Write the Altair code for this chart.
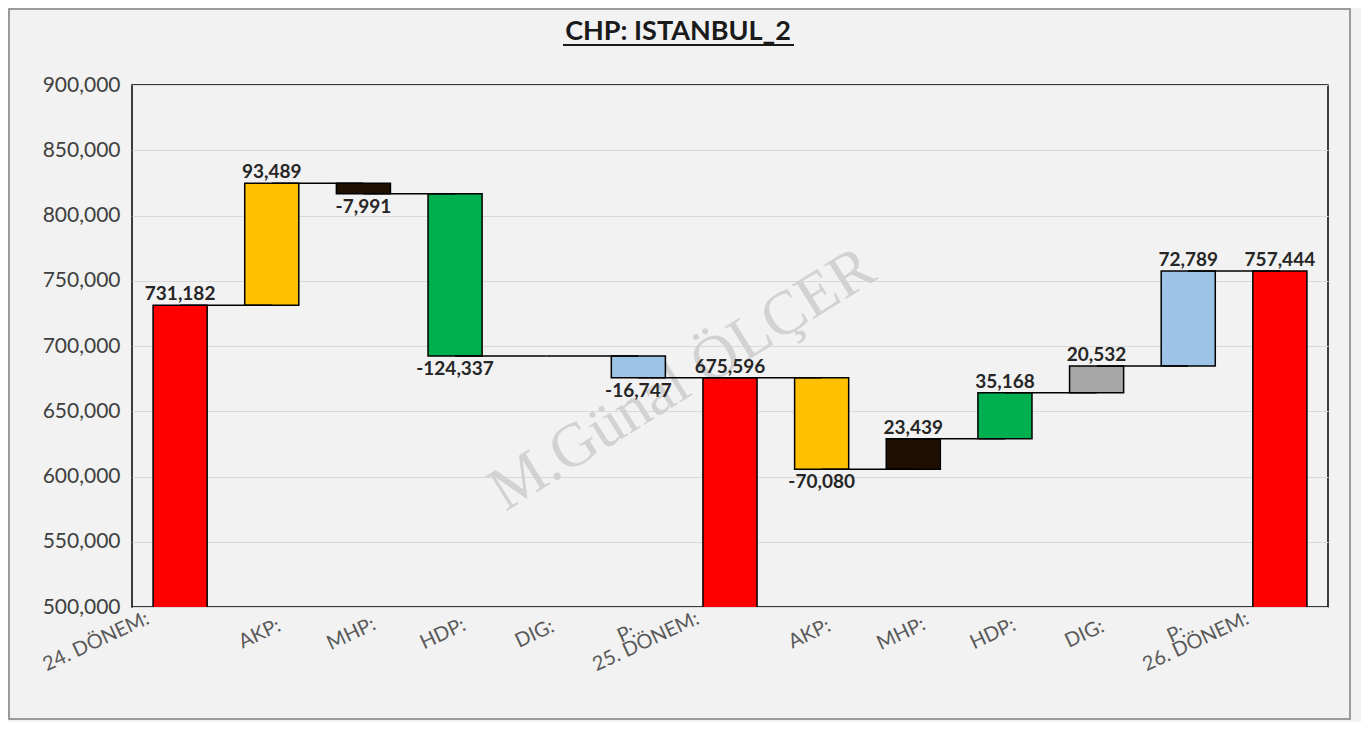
import altair as alt
import pandas as pd

# ---- data ----
categories = ["24. DÖNEM:", "AKP:", "MHP:", "HDP:", "DIG:", "P:", "25. DÖNEM:",
              "AKP:", "MHP:", "HDP:", "DIG:", "P:", "26. DÖNEM:"]
values = [731182, 93489, -7991, -124337, 0, -16747, 675596,
          -70080, 23439, 35168, 20532, 72789, 757444]
kinds = ["total", "delta", "delta", "delta", "delta", "delta", "total",
         "delta", "delta", "delta", "delta", "delta", "total"]
party_colors = {"DÖNEM": "#FF0000", "AKP": "#FFC000", "MHP": "#1F0F00",
                "HDP": "#00B050", "DIG": "#A6A6A6", "P": "#9DC3E6"}
y_ticks = [500000, 550000, 600000, 650000, 700000, 750000, 800000, 850000, 900000]
title_text = "CHP: ISTANBUL_2"
watermark_text = "M.Günal ÖLÇER"

W, H = 1196, 522

rows = []
running = 0
for i, (c, v, k) in enumerate(zip(categories, values, kinds)):
    if k == "total":
        start, end = 0, v
    else:
        start, end = running, running + v
    running = end
    key = "DÖNEM" if "DÖNEM" in c else c.rstrip(":")
    rows.append({"idx": i, "cat": c, "value": v, "kind": k, "start": start,
                 "end": end, "color": party_colors[key],
                 "txt": f"{v:,}" if v != 0 else "",
                 "sign": "neg" if v < 0 else ("pos" if v > 0 else "zero")})
df = pd.DataFrame(rows)

conn = pd.DataFrame([{"idx": r["idx"], "nxt": r["idx"] + 1, "level": r["end"]}
                     for r in rows[:-1]])
one = pd.DataFrame([{"a": 1}])

xscale = alt.Scale(paddingInner=0.41, paddingOuter=0.23)
yscale = alt.Scale(domain=[500000, 900000], nice=False, zero=False)
X = alt.X("idx:O", scale=xscale, axis=None)

yaxis = alt.Axis(values=y_ticks, format=",", labelExpr="format(datum.value, ',')",
                 title=None, domain=False, ticks=False,
                 labelFont="Lato", labelFontSize=21, labelColor="#404040",
                 labelPadding=12, gridColor="#d9d9d9", gridWidth=1)

border = alt.Chart(one).mark_rect(fill="transparent", stroke="#7f7f7f", strokeWidth=1.5).encode(
    x=alt.value(-123), x2=alt.value(1218), y=alt.value(-76), y2=alt.value(H + 112))

watermark = alt.Chart(one).mark_text(
    text=watermark_text, font="Liberation Serif", fontSize=62, angle=328,
    color="#d2d2d2", align="center", baseline="middle").encode(
    x=alt.value(550), y=alt.value(294))

bars = alt.Chart(df).transform_filter("datum.value != 0").mark_bar(
    stroke="black", strokeWidth=1.5, clip=True).encode(
    x=X, y=alt.Y("start:Q", scale=yscale, axis=yaxis), y2="end:Q",
    color=alt.Color("color:N", scale=None))

connectors = alt.Chart(conn).mark_rule(color="black", strokeWidth=1.5).encode(
    x=X, x2="nxt:O",
    y=alt.Y("level:Q", scale=yscale, axis=yaxis))

lab_pos = alt.Chart(df).transform_filter("datum.sign == 'pos'").mark_text(
    font="Lato", fontWeight="bold", fontSize=19, color="#262626",
    baseline="alphabetic", dy=-5).encode(
    x=X, y=alt.Y("end:Q", scale=yscale, axis=yaxis), text="txt:N")

lab_neg = alt.Chart(df).transform_filter("datum.sign == 'neg'").mark_text(
    font="Lato", fontWeight="bold", fontSize=19, color="#262626",
    baseline="top", dy=4).encode(
    x=X, y=alt.Y("end:Q", scale=yscale, axis=yaxis), text="txt:N")

# category labels: rotated about their centre, long labels sit further left / lower
xlabels = alt.Chart(df).transform_calculate(
    xo="15 - 12 * max(0, length(datum.cat) - 4)",
    ly=f"{H + 27} + 1.3 * max(0, length(datum.cat) - 4)").mark_text(
    font="Lato", fontSize=20, color="#595959", angle=335, align="center",
    baseline="middle").encode(
    x=X, xOffset=alt.XOffset("xo:Q", scale=None),
    y=alt.Y("ly:Q", scale=None, axis=None), text="cat:N")

title = alt.Chart(one).mark_text(
    text=title_text, font="Lato", fontWeight="bold", fontSize=27, color="#1a1a1a",
    align="center", baseline="middle").encode(x=alt.value(546), y=alt.value(-53))

underline = alt.Chart(one).mark_rule(color="#1a1a1a", strokeWidth=2).encode(
    x=alt.value(431), x2=alt.value(662), y=alt.value(-40))

chart = alt.layer(border, watermark, bars, connectors, lab_pos, lab_neg, xlabels,
                  title, underline).properties(
    width=W, height=H,
    padding={"left": 124, "top": 77, "right": 33, "bottom": 115},
    autosize=alt.AutoSizeParams(type="none"),
    background="#f2f2f2",
).configure_view(stroke="black", strokeWidth=1.5, fill="#f2f2f2")

chart.save("out.html", embed_options={"renderer": "svg", "actions": False})
